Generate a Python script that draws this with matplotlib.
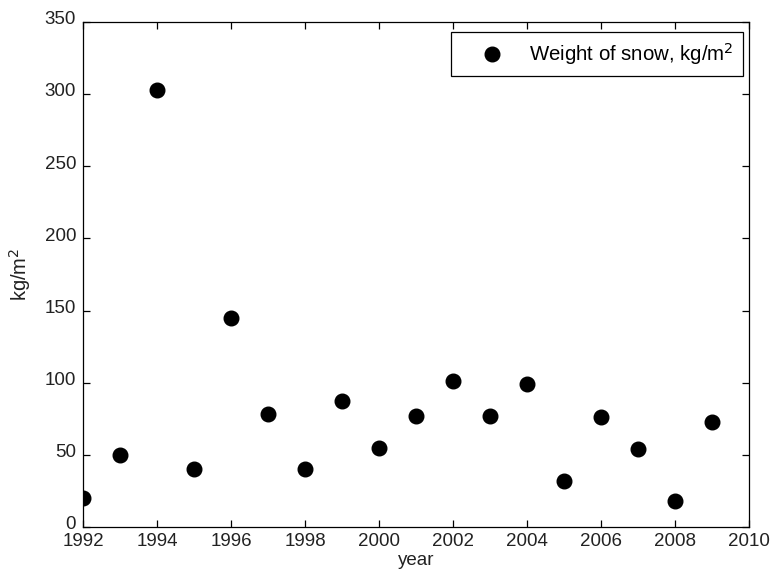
import matplotlib
matplotlib.use('Agg')
import matplotlib.pyplot as plt
import matplotlib.transforms as mtransforms

# Snow weight per year
years = [1992, 1993, 1994, 1995, 1996, 1997, 1998, 1999, 2000,
         2001, 2002, 2003, 2004, 2005, 2006, 2007, 2008, 2009]
snow_weight = [20, 50, 303, 40, 145, 78, 40, 87, 55,
               77, 101, 77, 99, 32, 76, 54, 18, 73]
x_ticks = list(range(1992, 2011, 2))
y_ticks = list(range(0, 351, 50))

plt.rcParams['font.family'] = ['Liberation Sans', 'DejaVu Sans']
plt.rcParams['font.size'] = 13.5

fig = plt.figure(figsize=(7.7, 5.76), dpi=100)
ax = fig.add_axes([0.1078, 0.085, 0.865, 0.877])

ax.plot(years, snow_weight, 'o', color='black', markersize=10.5,
        label='Weight of snow, kg/m$^2$')

ax.set_xlim(1992, 2010)
ax.set_ylim(0, 350)
ax.set_xticks(x_ticks)
ax.set_yticks(y_ticks)
ax.tick_params(direction='in', top=True, right=True, length=5,
               width=0.9, colors='black', labelcolor='#222222')
ax.tick_params(axis='x', pad=4)
ax.tick_params(axis='y', pad=5)
for s in ax.spines.values():
    s.set_linewidth(0.9)

# lift y tick labels a little, like the original, so "0" clears "1992"
lift = mtransforms.ScaledTranslation(0, 3 / 72, fig.dpi_scale_trans)
for lbl in ax.get_yticklabels():
    lbl.set_transform(lbl.get_transform() + lift)

ax.set_xlabel('year', color='#222222', labelpad=2)
ax.set_ylabel('kg/m$^2$', color='#222222', labelpad=8, fontsize=14.5)

leg = ax.legend(loc='upper right', bbox_to_anchor=(0.991, 0.980),
                fancybox=False, framealpha=1, edgecolor='black',
                borderpad=0.45, handletextpad=0.3, handlelength=3.1,
                borderaxespad=0, numpoints=1, fontsize=14.7)
leg.get_frame().set_linewidth(0.9)

fig.savefig('out.png', dpi=100)
